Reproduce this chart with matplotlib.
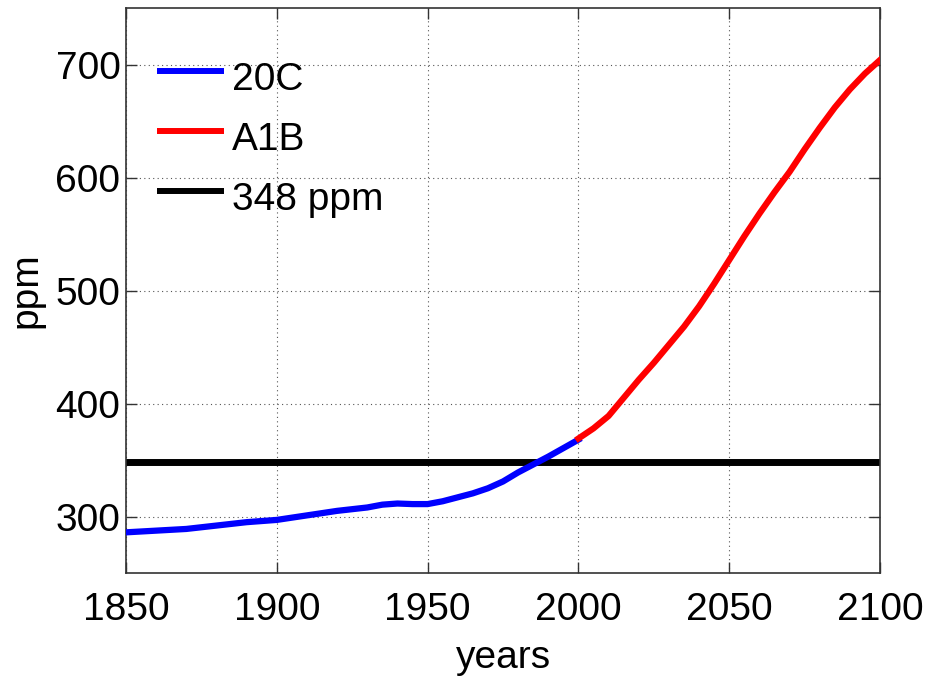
import matplotlib
matplotlib.use("Agg")
import matplotlib.pyplot as plt
from matplotlib.transforms import Affine2D

years_20c = [1850, 1860, 1870, 1880, 1890, 1900, 1910, 1920, 1930, 1935, 1940, 1945,
             1950, 1955, 1960, 1965, 1970, 1975, 1980, 1985, 1990, 1995, 2000]
ppm_20c = [286, 287.5, 289, 292, 295, 297, 301, 305, 308, 310.5, 311.5, 311,
           311, 313.5, 317, 320.5, 325, 331, 339, 346, 353, 360.5, 368]

years_a1b = [2000, 2005, 2010, 2015, 2020, 2025, 2030, 2035, 2040, 2045, 2050,
             2055, 2060, 2065, 2070, 2075, 2080, 2085, 2090, 2095, 2100]
ppm_a1b = [369, 378, 389, 405, 421, 436, 452, 468, 486, 506, 527,
           548, 568, 587, 605, 625, 644, 662, 678, 692, 704]

ref_level = 348
labels = ["20C", "A1B", "348 ppm"]

plt.rcParams['font.family'] = ['Liberation Sans', 'DejaVu Sans']
fs = 28

fig = plt.figure(figsize=(9.29, 6.86), dpi=100)
ax = fig.add_axes([0.1356, 0.1647, 0.8117, 0.8236])

l1, = ax.plot(years_20c, ppm_20c, color='#0000ff', lw=4.5, label=labels[0], zorder=3)
l2, = ax.plot(years_a1b, ppm_a1b, color='#ff0000', lw=4.5, label=labels[1], zorder=3)
l3 = ax.axhline(ref_level, color='black', lw=5, label=labels[2], zorder=2)

ax.set_xlim(1850, 2100)
ax.set_ylim(250, 750)
ax.set_xticks([1850, 1900, 1950, 2000, 2050, 2100])
ax.set_yticks([300, 400, 500, 600, 700])
ax.grid(True, linestyle=(0, (1, 3)), color='#555555', lw=0.8)
ax.tick_params(direction='in', length=8, width=1, labelsize=fs, top=True, right=True,
               color='#333333')
ax.tick_params(axis='x', pad=14)
ax.tick_params(axis='y', pad=4)
for s in ax.spines.values():
    s.set_color('#333333')
    s.set_linewidth(1.2)

ax.set_xlabel('years', fontsize=fs, labelpad=8)
ax.set_ylabel('ppm', fontsize=fs, labelpad=8)

leg = ax.legend(loc='upper left', bbox_to_anchor=(0.041, 0.905), frameon=False,
                fontsize=fs, handlelength=1.72, handletextpad=0.2, labelspacing=0.62,
                borderpad=0, borderaxespad=0)
for h in leg.get_lines():
    h.set_linewidth(4.3)
    h.set_solid_capstyle('butt')
    h.set_transform(h.get_transform() + Affine2D().translate(0, 5))

fig.savefig('out.png', dpi=100)
